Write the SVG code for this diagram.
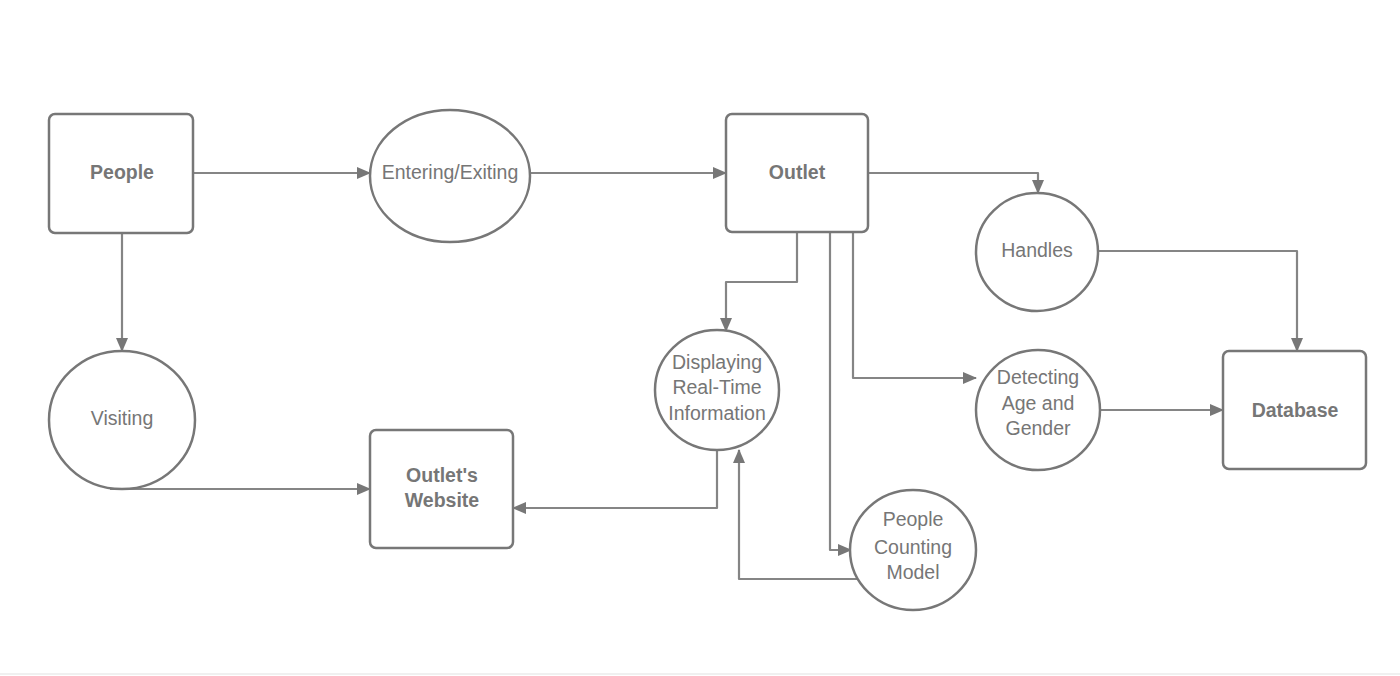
<svg xmlns="http://www.w3.org/2000/svg" width="1400" height="676" viewBox="0 0 1400 676">
<style>
.shape{fill:#fff;stroke:#777;stroke-width:2.5}
.lbl{font-family:"Liberation Sans",Arial,sans-serif;font-size:19.5px;fill:#767676;text-anchor:middle}
.b{font-weight:bold}
.conn{fill:none;stroke:#858585;stroke-width:2.2;stroke-linejoin:round}
</style>
<defs>
<marker id="ah" markerUnits="userSpaceOnUse" markerWidth="14" markerHeight="12" refX="13" refY="6" orient="auto">
<path d="M0,0 L14,6 L0,12 Z" fill="#777"/>
</marker>
</defs>
<rect width="1400" height="676" fill="#fff"/>
<line x1="0" y1="674" x2="1400" y2="674" stroke="#f0f0f0" stroke-width="2"/>
<g id="connectors">
<path class="conn" d="M193,173 H370" marker-end="url(#ah)"/>
<path class="conn" d="M530,173 H726" marker-end="url(#ah)"/>
<path class="conn" d="M122,233 V351" marker-end="url(#ah)"/>
<path class="conn" d="M110,489 H370" marker-end="url(#ah)"/>
<path class="conn" d="M868,173 H1038 V193" marker-end="url(#ah)"/>
<path class="conn" d="M1098,251 H1297 V351" marker-end="url(#ah)"/>
<path class="conn" d="M797,232 V282 H726 V331" marker-end="url(#ah)"/>
<path class="conn" d="M830,232 V550 H851" marker-end="url(#ah)"/>
<path class="conn" d="M853,232 V378 H976" marker-end="url(#ah)"/>
<path class="conn" d="M1100,410 H1223" marker-end="url(#ah)"/>
<path class="conn" d="M717,450 V508 H513" marker-end="url(#ah)"/>
<path class="conn" d="M857,579 H739 V450" marker-end="url(#ah)"/>
</g>
<g id="people">
<rect class="shape" x="49" y="114" width="144" height="119" rx="6"/>
<text class="lbl b" x="122" y="179">People</text>
</g>
<g id="entering">
<ellipse class="shape" cx="450" cy="176" rx="80" ry="66"/>
<text class="lbl" x="450" y="179">Entering/Exiting</text>
</g>
<g id="outlet">
<rect class="shape" x="726" y="114" width="142" height="118" rx="6"/>
<text class="lbl b" x="797" y="179">Outlet</text>
</g>
<g id="handles">
<ellipse class="shape" cx="1037" cy="252" rx="61" ry="59"/>
<text class="lbl" x="1037" y="257">Handles</text>
</g>
<g id="database">
<rect class="shape" x="1223" y="351" width="143" height="118" rx="6"/>
<text class="lbl b" x="1295" y="417">Database</text>
</g>
<g id="detecting">
<ellipse class="shape" cx="1038" cy="410" rx="62" ry="60"/>
<text class="lbl" x="1038" y="384">Detecting</text>
<text class="lbl" x="1038" y="410">Age and</text>
<text class="lbl" x="1038" y="435">Gender</text>
</g>
<g id="displaying">
<ellipse class="shape" cx="717" cy="390" rx="62" ry="60"/>
<text class="lbl" x="717" y="369">Displaying</text>
<text class="lbl" x="717" y="394">Real-Time</text>
<text class="lbl" x="717" y="420">Information</text>
</g>
<g id="counting">
<ellipse class="shape" cx="913" cy="550" rx="63" ry="60"/>
<text class="lbl" x="913" y="526">People</text>
<text class="lbl" x="913" y="554">Counting</text>
<text class="lbl" x="913" y="579">Model</text>
</g>
<g id="website">
<rect class="shape" x="370" y="430" width="143" height="118" rx="6"/>
<text class="lbl b" x="442" y="482">Outlet's</text>
<text class="lbl b" x="442" y="507">Website</text>
</g>
<g id="visiting">
<ellipse class="shape" cx="122" cy="420" rx="73" ry="69"/>
<text class="lbl" x="122" y="425">Visiting</text>
</g>
</svg>
